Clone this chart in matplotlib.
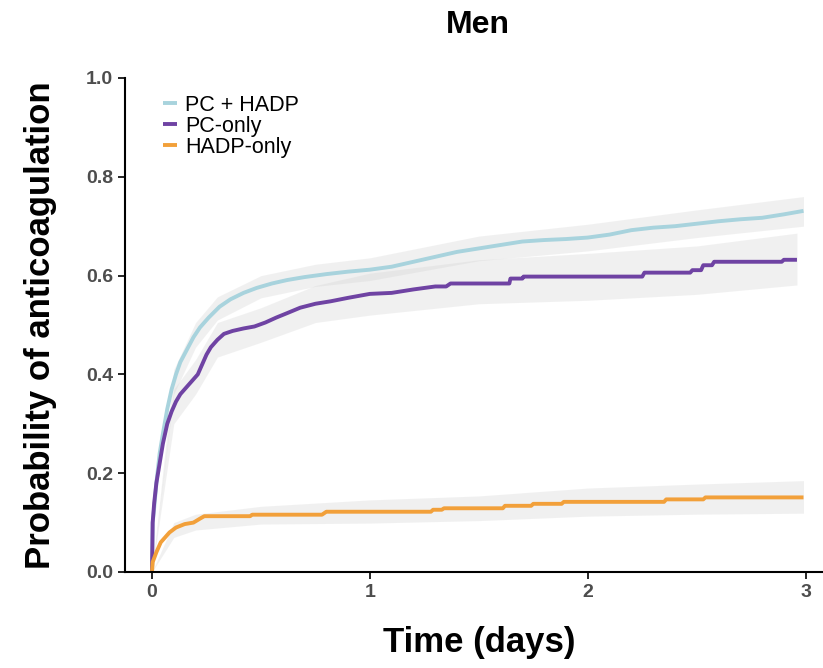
import matplotlib
matplotlib.use("Agg")
import matplotlib.pyplot as plt

plt.rcParams["font.family"] = ["Liberation Sans", "DejaVu Sans"]

# Cumulative probability curves (time in days)
both_t = [0, 0.003, 0.01, 0.02, 0.035, 0.05, 0.07, 0.09, 0.11, 0.13, 0.16, 0.19, 0.22, 0.26,
          0.31, 0.36, 0.42, 0.48, 0.55, 0.62, 0.70, 0.80, 0.90, 1.00, 1.10, 1.20, 1.30, 1.40,
          1.50, 1.60, 1.70, 1.80, 1.90, 2.00, 2.10, 2.20, 2.30, 2.40, 2.50, 2.60, 2.70, 2.80,
          2.90, 2.99]
both_y = [0.0, 0.10, 0.13, 0.18, 0.24, 0.28, 0.33, 0.37, 0.40, 0.425, 0.45, 0.475, 0.495, 0.515,
          0.537, 0.552, 0.565, 0.575, 0.584, 0.591, 0.597, 0.603, 0.608, 0.612, 0.618, 0.628,
          0.638, 0.648, 0.655, 0.662, 0.669, 0.672, 0.674, 0.677, 0.683, 0.692, 0.697, 0.700,
          0.705, 0.710, 0.714, 0.717, 0.724, 0.731]

pc_t = [0, 0.003, 0.01, 0.02, 0.035, 0.05, 0.07, 0.09, 0.11, 0.13, 0.16, 0.19, 0.21, 0.23, 0.25,
        0.27, 0.30, 0.33, 0.37, 0.42, 0.47, 0.52, 0.57, 0.62, 0.68, 0.75, 0.82, 0.90, 1.00, 1.10,
        1.20, 1.30, 1.35, 1.37, 1.64, 1.645, 1.70, 1.705, 2.25, 2.26, 2.47, 2.48, 2.52, 2.53,
        2.57, 2.58, 2.89, 2.90, 2.96]
pc_y = [0.0, 0.10, 0.14, 0.18, 0.22, 0.26, 0.30, 0.325, 0.345, 0.36, 0.375, 0.39, 0.40, 0.42, 0.44,
        0.455, 0.47, 0.482, 0.488, 0.493, 0.497, 0.505, 0.515, 0.524, 0.535, 0.543, 0.548, 0.555,
        0.563, 0.565, 0.572, 0.578, 0.578, 0.584, 0.584, 0.594, 0.594, 0.598, 0.598, 0.606,
        0.606, 0.611, 0.611, 0.621, 0.621, 0.628, 0.628, 0.632, 0.632]

hadp_t = [0, 0.003, 0.02, 0.04, 0.06, 0.08, 0.11, 0.15, 0.19, 0.22, 0.24, 0.45, 0.46, 0.78, 0.80,
          1.28, 1.29, 1.33, 1.34, 1.61, 1.62, 1.74, 1.75, 1.88, 1.89, 2.35, 2.36, 2.53, 2.54, 2.99]
hadp_y = [0.0, 0.02, 0.04, 0.06, 0.07, 0.08, 0.09, 0.097, 0.10, 0.108, 0.113, 0.113, 0.116, 0.116,
          0.122, 0.122, 0.126, 0.126, 0.129, 0.129, 0.134, 0.134, 0.138, 0.138, 0.142, 0.142,
          0.147, 0.147, 0.151, 0.151]

# Confidence bands
both_band_t = [0, 0.1, 0.2, 0.3, 0.5, 0.75, 1.0, 1.5, 2.0, 2.5, 2.99]
both_lo = [0.0, 0.36, 0.455, 0.51, 0.555, 0.578, 0.59, 0.63, 0.65, 0.677, 0.70]
both_hi = [0.0, 0.41, 0.505, 0.557, 0.60, 0.623, 0.636, 0.68, 0.704, 0.733, 0.76]

pc_band_t = [0, 0.1, 0.2, 0.3, 0.5, 0.75, 1.0, 1.5, 2.0, 2.5, 2.96]
pc_lo = [0.0, 0.30, 0.36, 0.435, 0.465, 0.505, 0.52, 0.543, 0.55, 0.562, 0.581]
pc_hi = [0.0, 0.37, 0.43, 0.505, 0.535, 0.58, 0.605, 0.632, 0.645, 0.66, 0.686]

hadp_band_t = [0, 0.1, 0.2, 0.5, 1.0, 1.5, 2.0, 2.5, 2.99]
hadp_lo = [0.0, 0.07, 0.085, 0.097, 0.099, 0.104, 0.113, 0.117, 0.119]
hadp_hi = [0.0, 0.10, 0.117, 0.133, 0.146, 0.154, 0.17, 0.178, 0.185]

labels = ["PC + HADP", "PC-only", "HADP-only"]
colors = ["#A8D3DD", "#6F43A3", "#F2A03A"]

fig = plt.figure(figsize=(8.23, 6.68), dpi=100)
ax = fig.add_axes([125 / 823, 1 - 572 / 668, 709 / 823, 494 / 668])

for bt, lo, hi in [(both_band_t, both_lo, both_hi), (pc_band_t, pc_lo, pc_hi),
                   (hadp_band_t, hadp_lo, hadp_hi)]:
    ax.fill_between(bt, lo, hi, color="#d4d4d4", alpha=0.33, linewidth=0)

series = [(both_t, both_y), (pc_t, pc_y), (hadp_t, hadp_y)]
for (t, y), lab, col in zip(series, labels, colors):
    ax.plot(t, y, color=col, linewidth=2.8, label=lab, solid_capstyle="butt")

ax.set_xlim(-0.124, 3.13)
ax.set_ylim(0, 1)
ax.set_xticks([0, 1, 2, 3])
ax.set_yticks([0.0, 0.2, 0.4, 0.6, 0.8, 1.0])
ax.set_yticklabels(["0.0", "0.2", "0.4", "0.6", "0.8", "1.0"])
ax.tick_params(axis="both", colors="black", labelcolor="#4D4D4D", labelsize=14,
               length=5, width=1.2)
for lab in ax.get_xticklabels() + ax.get_yticklabels():
    lab.set_fontweight("bold")
for side in ["top", "right"]:
    ax.spines[side].set_visible(False)
for side in ["left", "bottom"]:
    ax.spines[side].set_linewidth(1.5)

ax.set_xlabel("Time (days)", fontsize=25, fontweight="bold", labelpad=18)
ax.set_ylabel("Probability of anticoagulation", fontsize=25, fontweight="bold", labelpad=21)
fig.text(478 / 823, 1 - 25 / 668, "Men", fontsize=23, fontweight="bold",
         ha="center", va="center")

ax.legend(loc="upper left", bbox_to_anchor=(0.042, 0.983), frameon=False, fontsize=15.5,
          handlelength=0.65, handletextpad=0.35, labelspacing=0.0, borderaxespad=0)

fig.savefig("out.png", dpi=100)
